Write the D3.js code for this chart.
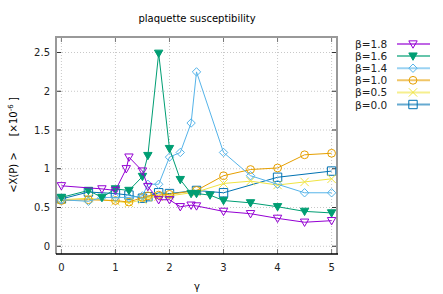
<!DOCTYPE html>
<html>
<head>
<script src="https://cdnjs.cloudflare.com/ajax/libs/d3/7.8.5/d3.min.js"></script>
<style type='text/css'>
body { margin: 0; background: #fff; }
svg { display: block; font-family: "DejaVu Sans", sans-serif; }
.grid line { stroke: #c8c8c8; stroke-width: 1; stroke-dasharray: 1,2; }
.ticklabel { font-size: 10px; fill: #222; }
path.series { fill: none; stroke-width: 1; }
</style>
</head>
<body>
<div id="plot"></div>
<script type='text/javascript'>
// data: gamma values and <X(P)> (x1e-6) for each beta
var names = ["β=1.8", "β=1.6", "β=1.4", "β=1.0", "β=0.5", "β=0.0"];
var colors = ["#9400d3", "#009e73", "#56b4e9", "#e69f00", "#f0e442", "#0072b2"];
var shapes = ["tri", "trifill", "diamond", "circle", "cross", "square"];

var g18 = [0, 0.75, 1.0, 1.2, 1.25, 1.5, 1.6, 1.8, 2.0, 2.2, 2.4, 2.5, 3, 3.5, 4, 4.5, 5];
var v18 = [0.78, 0.74, 0.72, 1.0, 1.15, 0.97, 0.77, 0.6, 0.6, 0.51, 0.53, 0.52, 0.45, 0.42, 0.36, 0.31, 0.33];
var g16 = [0, 0.5, 0.75, 1.0, 1.25, 1.5, 1.6, 1.8, 2.0, 2.2, 2.4, 2.5, 2.75, 3, 3.5, 4, 4.5, 5];
var v16 = [0.63, 0.72, 0.63, 0.74, 0.72, 0.9, 1.17, 2.49, 1.26, 0.86, 0.68, 0.68, 0.66, 0.59, 0.56, 0.51, 0.45, 0.43];
var g14 = [0, 0.5, 0.75, 1.0, 1.25, 1.5, 1.6, 1.8, 2.0, 2.2, 2.4, 2.5, 3, 3.5, 4, 4.5, 5];
var v14 = [0.6, 0.58, 0.63, 0.63, 0.63, 0.65, 0.8, 0.8, 1.15, 1.21, 1.59, 2.25, 1.21, 0.91, 0.8, 0.69, 0.69];
var g10 = [0, 0.5, 1.0, 1.25, 1.5, 1.6, 1.8, 2.0, 2.5, 3, 3.5, 4, 4.5, 5];
var v10 = [0.59, 0.6, 0.59, 0.57, 0.63, 0.65, 0.66, 0.67, 0.72, 0.91, 0.99, 1.01, 1.18, 1.2];
var g05 = [0, 0.5, 1.0, 1.25, 1.5, 1.6, 1.8, 2.0, 2.5, 3, 3.5, 4, 4.5, 5];
var v05 = [0.6, 0.62, 0.58, 0.56, 0.6, 0.63, 0.64, 0.65, 0.7, 0.81, 0.84, 0.79, 0.83, 0.87];
var g00 = [0, 0.5, 1.0, 1.25, 1.5, 1.6, 1.8, 2.0, 2.5, 3, 4, 5];
var v00 = [0.61, 0.7, 0.68, 0.66, 0.62, 0.64, 0.69, 0.68, 0.72, 0.69, 0.89, 0.97];

var xTicks = [0, 1, 2, 3, 4, 5];
var yTicks = [0, 0.5, 1, 1.5, 2, 2.5];

var gammas = [g18, g16, g14, g10, g05, g00];
var values = [v18, v16, v14, v10, v05, v00];

var width = 443, height = 294;
var pLeft = 56, pRight = 337, pTop = 37, pBottom = 254;

var svg = d3.select("div#plot").append("svg")
    .attr("width", width)
    .attr("height", height);

var xsc = d3.scaleLinear().domain([-0.1, 5.1]).range([pLeft, pRight]),
    ysc = d3.scaleLinear().domain([-0.1, 2.7]).range([pBottom, pTop]);

// grid
var grid = svg.append("g").attr("class", "grid");
xTicks.forEach(function(t) {
  grid.append("line")
    .attr("x1", xsc(t)).attr("x2", xsc(t))
    .attr("y1", pTop).attr("y2", pBottom);
});
yTicks.forEach(function(t) {
  grid.append("line")
    .attr("x1", pLeft).attr("x2", pRight)
    .attr("y1", ysc(t)).attr("y2", ysc(t));
});

// tick marks, inward on all four sides
var ticks = svg.append("g");
yTicks.forEach(function(t) {
  ticks.append("line").attr("x1", pLeft).attr("x2", pLeft + 5)
    .attr("y1", ysc(t)).attr("y2", ysc(t)).attr("stroke", "#333");
  ticks.append("line").attr("x1", pRight - 5).attr("x2", pRight)
    .attr("y1", ysc(t)).attr("y2", ysc(t)).attr("stroke", "#333");
});
xTicks.forEach(function(t) {
  ticks.append("line").attr("x1", xsc(t)).attr("x2", xsc(t))
    .attr("y1", pBottom).attr("y2", pBottom - 5).attr("stroke", "#777");
  ticks.append("line").attr("x1", xsc(t)).attr("x2", xsc(t))
    .attr("y1", pTop).attr("y2", pTop + 5).attr("stroke", "#777");
});

// border
svg.append("path")
  .attr("d", "M" + pLeft + "," + pBottom + "V" + pTop + "H" + pRight + "V" + pBottom)
  .attr("fill", "none").attr("stroke", "#999").attr("stroke-width", 2);
svg.append("line")
  .attr("x1", pLeft).attr("x2", pRight + 1)
  .attr("y1", pBottom).attr("y2", pBottom)
  .attr("stroke", "#000").attr("stroke-width", 1.5);

// tick labels
xTicks.forEach(function(t) {
  svg.append("text").attr("class", "ticklabel")
    .attr("x", xsc(t)).attr("y", 271)
    .attr("text-anchor", "middle").text(d3.format("d")(t));
});
yTicks.forEach(function(t) {
  svg.append("text").attr("class", "ticklabel")
    .attr("x", 50).attr("y", ysc(t) + 3.5)
    .attr("text-anchor", "end").text(t);
});

// titles
svg.append("text").attr("x", 197).attr("y", 22)
  .attr("text-anchor", "middle").attr("font-size", 10).text("plaquette susceptibility");
svg.append("text").attr("x", 197).attr("y", 290)
  .attr("text-anchor", "middle").attr("font-size", 10).text("γ");
var ylab = svg.append("text")
  .attr("transform", "translate(17,145) rotate(-90)")
  .attr("text-anchor", "middle").attr("font-size", 10)
  .attr("xml:space", "preserve").style("white-space", "pre");
ylab.append("tspan").text("<X(P) >     [×10");
ylab.append("tspan").attr("dy", -4).attr("font-size", 7).text("-6");
ylab.append("tspan").attr("dy", 4).text(" ]");

function marker(sel, shape, color) {
  var r = 4.2;
  if (shape == "circle") {
    sel.append("circle").attr("r", r - 0.3).attr("fill", "none").attr("stroke", color);
    return;
  }
  var d;
  if (shape == "tri" || shape == "trifill") d = "M0," + r + "L" + (-r) + "," + (-r * 0.75) + "L" + r + "," + (-r * 0.75) + "Z";
  if (shape == "diamond") d = "M0," + (-r) + "L" + r + ",0L0," + r + "L" + (-r) + ",0Z";
  if (shape == "square") d = "M" + (-r) + "," + (-r) + "H" + r + "V" + r + "H" + (-r) + "Z";
  if (shape == "cross") d = "M" + (-r) + "," + (-r) + "L" + r + "," + r + "M" + r + "," + (-r) + "L" + (-r) + "," + r;
  sel.append("path").attr("d", d)
    .attr("fill", shape == "trifill" ? color : "none")
    .attr("stroke", color).attr("stroke-width", 1);
}

var line = d3.line()
  .x(function(d) { return xsc(d[0]); })
  .y(function(d) { return ysc(d[1]); });

// series, drawn last one first so beta=1.8 is on top
for (var s = names.length - 1; s >= 0; --s) {
  var pts = gammas[s].map(function(g, i) { return [g, values[s][i]]; });
  var grp = svg.append("g");
  grp.append("path").datum(pts).attr("class", "series")
    .attr("stroke", colors[s]).attr("d", line);
  pts.forEach(function(p) {
    grp.append("g").attr("transform", "translate(" + xsc(p[0]) + "," + ysc(p[1]) + ")")
      .call(marker, shapes[s], colors[s]);
  });
}

// legend
var legend = svg.append("g");
names.forEach(function(n, i) {
  var y = 44 + i * 12.1;
  legend.append("text").attr("x", 355).attr("y", y + 4)
    .attr("font-size", 10.5).attr("fill", "#222").text(n);
  legend.append("line").attr("x1", 397).attr("x2", 430)
    .attr("y1", y).attr("y2", y)
    .attr("stroke", colors[i]).attr("stroke-width", 2).attr("stroke-opacity", 0.6);
  legend.append("g").attr("transform", "translate(413," + y + ")")
    .call(marker, shapes[i], colors[i]);
});
</script>
</body>
</html>
